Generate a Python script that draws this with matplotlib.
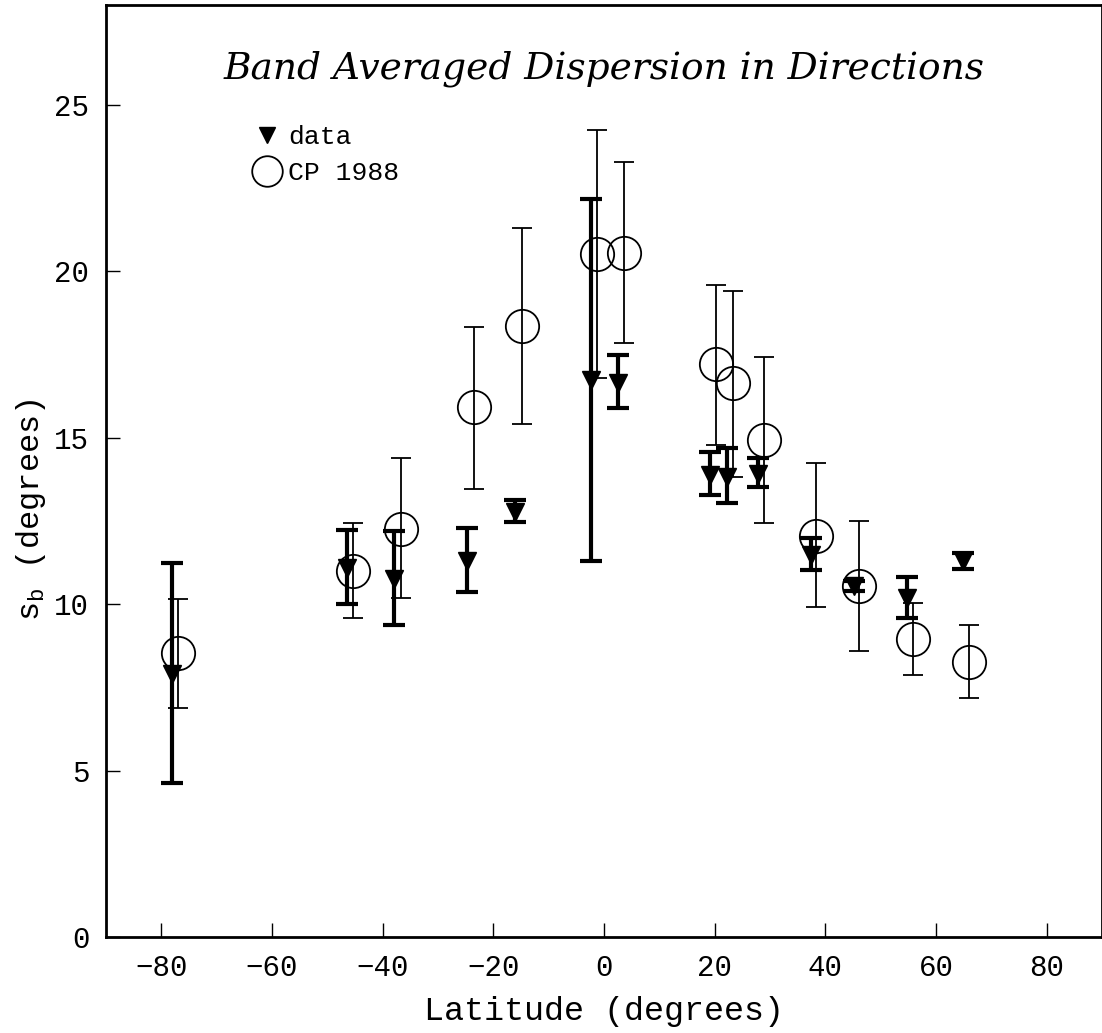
import numpy as np
import matplotlib
matplotlib.use("Agg")
import matplotlib.pyplot as plt
from matplotlib.lines import Line2D

plt.rcParams['font.family'] = ['Liberation Mono', 'DejaVu Sans']
plt.rcParams['mathtext.fontset'] = 'custom'
plt.rcParams['mathtext.rm'] = 'Liberation Mono'
plt.rcParams['mathtext.it'] = 'Liberation Mono'

# measured band dispersion (filled triangles)
lat_data = [-78.1, -46.4, -38.0, -24.8, -16.0, -2.3, 2.5, 19.2, 22.3, 27.9, 37.4, 45.1, 54.8, 64.9]
sb_data = [7.9, 11.1, 10.75, 11.3, 12.76, 16.73, 16.63, 13.87, 13.82, 13.92, 11.48, 10.55, 10.17, 11.3]
sb_data_lo = [4.64, 10.0, 9.37, 10.35, 12.46, 11.3, 15.9, 13.28, 13.04, 13.53, 11.04, 10.4, 9.59, 11.06]
sb_data_hi = [11.23, 12.24, 12.19, 12.28, 13.14, 22.18, 17.47, 14.57, 14.69, 14.4, 12.0, 10.7, 10.83, 11.54]

# CP 1988 model (open circles)
lat_cp = [-77.0, -45.4, -36.7, -23.5, -14.9, -1.3, 3.55, 20.3, 23.4, 28.9, 38.4, 46.0, 55.8, 65.9]
sb_cp = [8.52, 11.0, 12.26, 15.92, 18.35, 20.51, 20.56, 17.21, 16.65, 14.94, 12.06, 10.54, 8.95, 8.27]
sb_cp_lo = [6.87, 9.57, 10.17, 13.46, 15.41, 16.8, 17.86, 14.79, 13.83, 12.43, 9.92, 8.58, 7.87, 7.17]
sb_cp_hi = [10.15, 12.44, 14.4, 18.33, 21.3, 24.25, 23.28, 19.6, 19.4, 17.43, 14.25, 12.49, 10.03, 9.36]

xticks = [-80, -60, -40, -20, 0, 20, 40, 60, 80]
yticks = [0, 5, 10, 15, 20, 25]

fig = plt.figure(figsize=(11.02, 10.33), dpi=100)
ax = fig.add_axes([0.0962, 0.0929, 0.9038, 0.9023])

d = np.array(sb_data)
c = np.array(sb_cp)
ax.errorbar(lat_cp, c, yerr=[c - np.array(sb_cp_lo), np.array(sb_cp_hi) - c],
            fmt='o', mfc='none', mec='black', mew=1.3, ms=24, color='black',
            elinewidth=1.3, capsize=7, capthick=1.3, zorder=2)
ax.errorbar(lat_data, d, yerr=[d - np.array(sb_data_lo), np.array(sb_data_hi) - d],
            fmt='v', mfc='black', mec='black', ms=13, color='black',
            elinewidth=3, capsize=8, capthick=3, zorder=3)

ax.set_xlim(-90, 90)
ax.set_ylim(0, 28)
ax.set_xticks(xticks)
ax.set_yticks(yticks)
ax.set_xticklabels(['\u2212%d' % -t if t < 0 else '%d' % t for t in xticks])
ax.tick_params(direction='in', length=10, width=1, labelsize=21, pad=12)
for s in ax.spines.values():
    s.set_linewidth(2)

ax.set_xlabel('Latitude (degrees)', fontsize=24, labelpad=10)
ax.set_ylabel(r'$\mathrm{s_b}$ (degrees)', fontsize=23)
ax.yaxis.set_label_coords(-0.058, 0.458)
ax.text(0.5, 0.932, 'Band Averaged Dispersion in Directions', transform=ax.transAxes,
        ha='center', va='center', fontsize=27, style='italic', family='DejaVu Serif')

handles = [Line2D([], [], ls='none', marker='v', mfc='black', mec='black', ms=11),
           Line2D([], [], ls='none', marker='o', mfc='none', mec='black', mew=1.3, ms=22)]
ax.legend(handles, ['data', 'CP 1988'], loc='upper left', bbox_to_anchor=(0.135, 0.882),
          frameon=False, fontsize=19, handletextpad=0.2, labelspacing=0.45,
          handlelength=1.2, borderaxespad=0)

fig.savefig('out.png', dpi=100)
